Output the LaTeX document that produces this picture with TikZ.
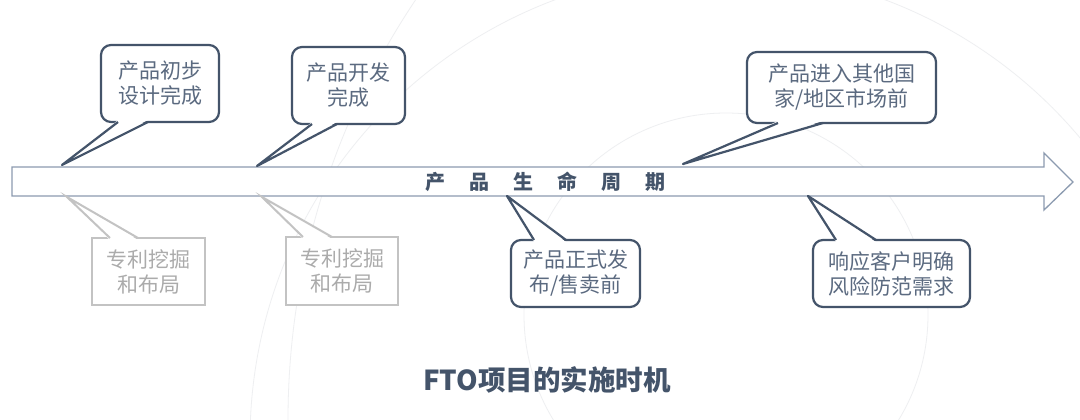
\documentclass[tikz,border=0pt]{standalone}
\usepackage{fontspec}
\newfontfamily\cjk{Noto Sans CJK SC}
\definecolor{darkbd}{HTML}{44546A}
\definecolor{txtc}{HTML}{5B6A80}
\definecolor{graybd}{HTML}{C3C3C3}
\definecolor{graytx}{HTML}{ABABAB}
\definecolor{arrbd}{HTML}{8C9BB0}
\definecolor{faint}{HTML}{EEEFF1}
\tikzset{
  callbox/.style={draw=darkbd, line width=2.2pt, rounded corners=10pt, fill=white,
    inner sep=0pt, align=center, text=txtc, font=\cjk\fontsize{21}{25}\selectfont},
  graybox/.style={draw=graybd, line width=2pt, fill=white,
    inner sep=0pt, align=center, text=graytx, font=\cjk\fontsize{21}{25}\selectfont},
  tailline/.style={draw=darkbd, line width=2.2pt, line join=round},
  graytail/.style={draw=graybd, line width=2pt, line join=miter},
}
\begin{document}
\begin{tikzpicture}[x=1pt,y=-1pt]
\useasboundingbox (0,0) rectangle (1080,420);
\fill[white] (0,0) rectangle (1080,420);
% faint background circles
\begin{scope}
\clip (0,0) rectangle (1080,420);
\draw[faint, line width=0.8pt] (1043,420) circle[radius=755];
\draw[faint, line width=0.8pt] (726,315) circle[radius=202];
\draw[faint, line width=0.8pt] (720,440) circle[radius=470];
\end{scope}
% main arrow
\draw[arrbd, line width=1.3pt, fill=white, line join=miter]
  (12,167) -- (1044,167) -- (1044,153) -- (1073,182) -- (1044,210) -- (1044,196) -- (12,196) -- cycle;
\node[text=darkbd, font=\cjk\bfseries\fontsize{20}{24}\selectfont] (life) at (545.5,182)
  {产\hspace*{24pt}品\hspace*{24pt}生\hspace*{24pt}命\hspace*{24pt}周\hspace*{24pt}期};
% tip coordinates
\coordinate (t1) at (62,165);
\coordinate (t2) at (257,166);
\coordinate (t3) at (683,164);
\coordinate (t4) at (67,197);
\coordinate (t5) at (262,197);
\coordinate (t6) at (507,196);
\coordinate (t7) at (808,196);
% upper callouts
\node[callbox, minimum width=118pt, minimum height=77pt] (c1) at (160,83.5) {产品初步\\设计完成};
\fill[white] (118,120) -- (t1) -- (148,120) -- cycle;
\draw[tailline] (118,122) -- (t1) -- (148,122);
\node[callbox, minimum width=113pt, minimum height=77pt] (c2) at (348.5,85.5) {产品开发\\完成};
\fill[white] (312,122) -- (t2) -- (337,122) -- cycle;
\draw[tailline] (312,124) -- (t2) -- (337,124);
\node[callbox, minimum width=189pt, minimum height=71pt] (c3) at (841.5,87.5) {产品进入其他国\\家/地区市场前};
\fill[white] (778,121) -- (t3) -- (823,121) -- cycle;
\draw[tailline] (778,123) -- (t3) -- (823,123);
% lower gray callouts
\node[graybox, minimum width=113pt, minimum height=67pt] (c4) at (148.5,271.5) {专利挖掘\\和布局};
\fill[white] (110,240) -- (t4) -- (138,240) -- cycle;
\draw[graytail] (110,238) -- (t4) -- (138,238);
\node[graybox, minimum width=112pt, minimum height=68pt] (c5) at (342,271) {专利挖掘\\和布局};
\fill[white] (303,239) -- (t5) -- (332,239) -- cycle;
\draw[graytail] (303,237) -- (t5) -- (332,237);
% lower dark callouts
\node[callbox, minimum width=129pt, minimum height=67pt] (c6) at (575.5,273.5) {产品正式发\\布/售卖前};
\fill[white] (534,242) -- (t6) -- (566,242) -- cycle;
\draw[tailline] (534,240) -- (t6) -- (566,240);
\node[callbox, minimum width=157pt, minimum height=67pt] (c7) at (891.5,273.5) {响应客户明确\\风险防范需求};
\fill[white] (836,242) -- (t7) -- (876,242) -- cycle;
\draw[tailline] (836,240) -- (t7) -- (876,240);
% title
\node[text=darkbd, font=\cjk\bfseries\fontsize{27.5}{32}\selectfont] (title) at (547,380) {FTO项目的实施时机};
\end{tikzpicture}
\end{document}
